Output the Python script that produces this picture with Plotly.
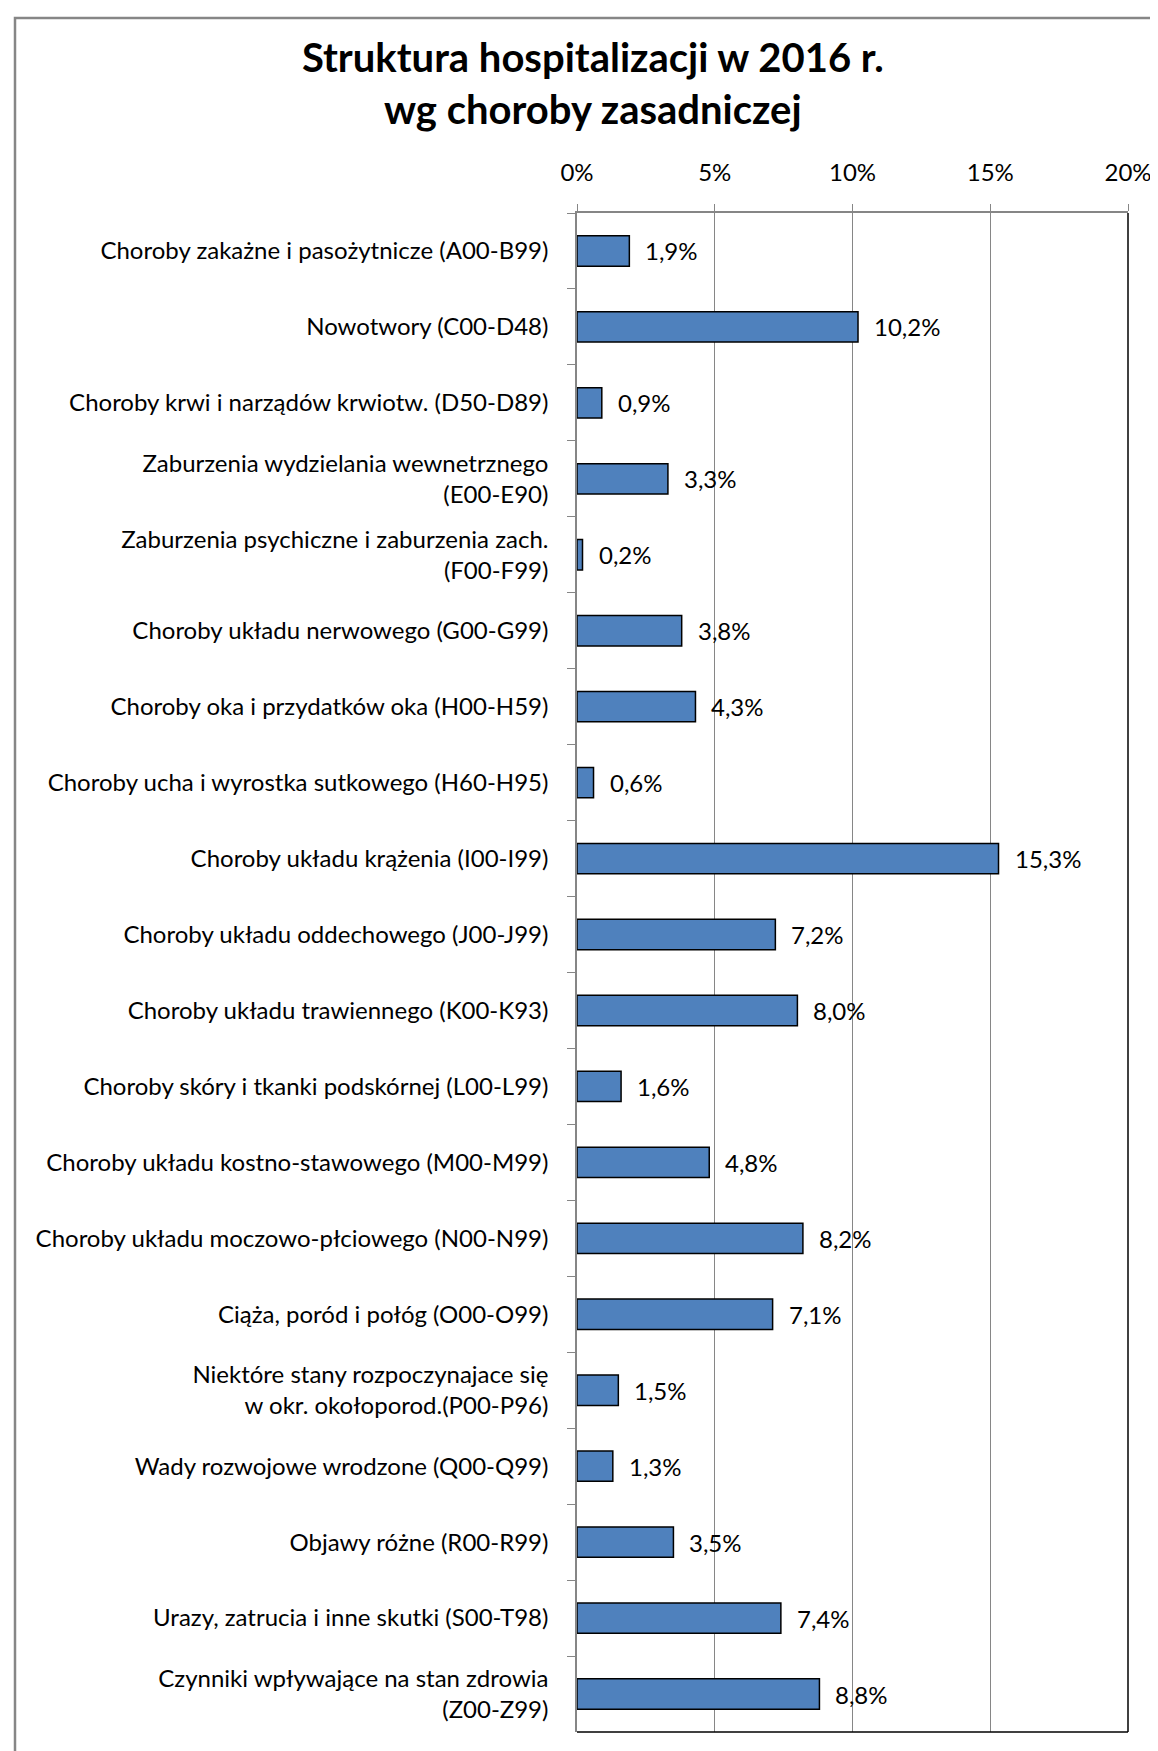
import plotly.graph_objects as go

categories = [
    "Choroby zakażne i pasożytnicze (A00-B99)",
    "Nowotwory (C00-D48)",
    "Choroby krwi i narządów krwiotw. (D50-D89)",
    "Zaburzenia wydzielania wewnetrznego<br>(E00-E90)",
    "Zaburzenia psychiczne i zaburzenia zach.<br>(F00-F99)",
    "Choroby układu nerwowego (G00-G99)",
    "Choroby oka i przydatków oka (H00-H59)",
    "Choroby ucha i wyrostka sutkowego (H60-H95)",
    "Choroby układu krążenia (I00-I99)",
    "Choroby układu oddechowego (J00-J99)",
    "Choroby układu trawiennego (K00-K93)",
    "Choroby skóry i tkanki podskórnej (L00-L99)",
    "Choroby układu kostno-stawowego (M00-M99)",
    "Choroby układu moczowo-płciowego (N00-N99)",
    "Ciąża, poród i połóg (O00-O99)",
    "Niektóre stany rozpoczynajace się<br>w okr. okołoporod.(P00-P96)",
    "Wady rozwojowe wrodzone (Q00-Q99)",
    "Objawy różne (R00-R99)",
    "Urazy, zatrucia i inne skutki (S00-T98)",
    "Czynniki wpływające na stan zdrowia<br>(Z00-Z99)",
]
values = [1.9, 10.2, 0.9, 3.3, 0.2, 3.8, 4.3, 0.6, 15.3, 7.2,
          8.0, 1.6, 4.8, 8.2, 7.1, 1.5, 1.3, 3.5, 7.4, 8.8]
x_ticks = [0, 5, 10, 15, 20]
x_tick_labels = ["0%", "5%", "10%", "15%", "20%"]
title_text = "Struktura hospitalizacji w 2016 r.<br>wg choroby zasadniczej"

FONT = "Lato"
W, H = 1158, 1751
L, R, T, B = 569, 38, 205, 27

fig = go.Figure()
fig.add_trace(go.Bar(
    x=values, y=categories, orientation="h",
    marker=dict(color="#4F81BD", line=dict(color="#000000", width=1.5)),
    width=0.4, hoverinfo="skip",
))

for v, c in zip(values, categories):
    fig.add_annotation(x=v, y=c, xref="x", yref="y",
                       text=f"{v:.1f}%".replace(".", ","),
                       showarrow=False, xanchor="left", yanchor="middle",
                       xshift=14, font=dict(family=FONT, size=24, color="#000"))

gray = "#868686"
fig.update_layout(
    width=W, height=H,
    margin=dict(l=L, r=R, t=T, b=B),
    paper_bgcolor="white", plot_bgcolor="white",
    showlegend=False,
    title=dict(text=title_text, x=0.505, xanchor="center", y=1 - 64 / H,
               yanchor="top",
               font=dict(family=FONT, size=40, color="#000", weight="bold")),
    font=dict(family=FONT, size=24, color="#000"),
    xaxis=dict(side="top", range=[0, 20], tickvals=x_ticks,
               ticktext=x_tick_labels, showgrid=True, gridcolor=gray,
               gridwidth=1, showline=True, linecolor=gray, linewidth=1.5,
               ticks="outside", ticklen=7, tickcolor=gray,
               ticklabelstandoff=14, zeroline=False,
               tickfont=dict(family=FONT, size=24, color="#000")),
    yaxis=dict(autorange="reversed", showline=True, linecolor=gray,
               linewidth=1.5, ticks="outside", ticklen=8, tickcolor=gray,
               tickson="boundaries", showgrid=False,
               ticklabelstandoff=22,
               tickfont=dict(family=FONT, size=24, color="#000")),
    shapes=[
        dict(type="line", xref="x domain", yref="y domain", x0=1, x1=1,
             y0=0, y1=1, line=dict(color="#000", width=1.5)),
        dict(type="line", xref="x domain", yref="y domain", x0=0, x1=1,
             y0=0, y1=0, line=dict(color="#000", width=1.5)),
        dict(type="rect", xref="paper", yref="paper",
             x0=(7 - L) / (W - L - R), x1=(W + 20 - L) / (W - L - R),
             y0=(-40 - B) / (H - T - B), y1=(H - B - 10) / (H - T - B),
             line=dict(color=gray, width=2.5), fillcolor="rgba(0,0,0,0)"),
    ],
)

fig.write_html("out.html")
